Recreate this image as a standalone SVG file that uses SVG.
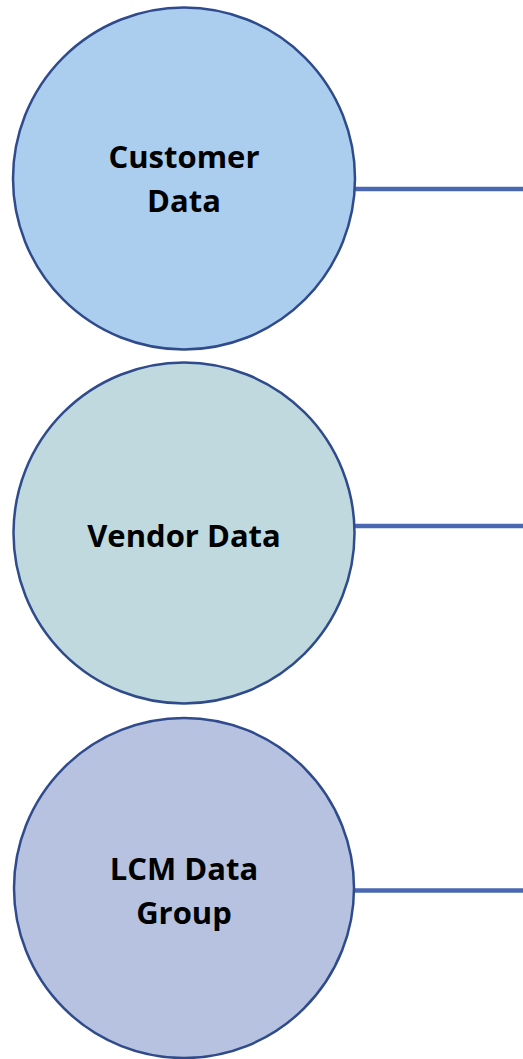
<svg xmlns="http://www.w3.org/2000/svg" width="523" height="1059" viewBox="0 0 523 1059">
<style>
.node circle{stroke:#2f4b8c;stroke-width:2.5}
.node text{font-family:"Open Sans","Liberation Sans",sans-serif;font-weight:bold;font-size:31px;fill:#000;text-anchor:middle}
.conn line{stroke:#4a67b3;stroke-width:4.5}
</style>
<rect width="523" height="1059" fill="#ffffff"/>
<g class="conn" id="connectors">
<line x1="355" y1="189" x2="523" y2="189"/>
<line x1="355" y1="526" x2="523" y2="526"/>
<line x1="355" y1="890.5" x2="523" y2="890.5"/>
</g>
<g class="node" id="customer-data">
<circle cx="184" cy="178.5" r="171" fill="#abcdee"/>
<text x="184" y="168">Customer</text>
<text x="184" y="212">Data</text>
</g>
<g class="node" id="vendor-data">
<circle cx="184" cy="533" r="170.5" fill="#bfd9de"/>
<text x="184" y="547">Vendor Data</text>
</g>
<g class="node" id="lcm-data-group">
<circle cx="184" cy="888" r="170" fill="#b6c2df"/>
<text x="184" y="880">LCM Data</text>
<text x="184" y="924">Group</text>
</g>
</svg>
